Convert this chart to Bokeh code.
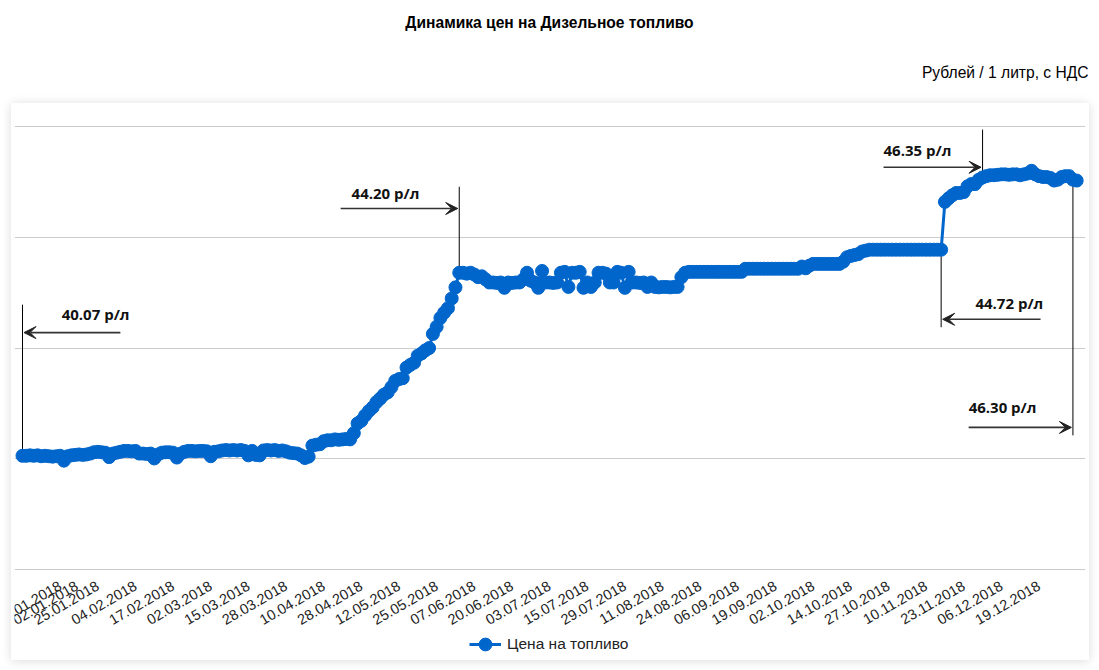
import math
from bokeh.plotting import figure
from bokeh.models import (Range1d, FixedTicker, Legend, LegendItem, Arrow, VeeHead,
                          ColumnDataSource)
from bokeh.layouts import column
from bokeh.core.properties import value
from bokeh.embed import file_html
from bokeh.resources import INLINE

# ---------------- data ----------------
title_text = "Динамика цен на Дизельное топливо"
unit_text = "Рублей / 1 литр, с НДС"
series_name = "Цена на топливо"

prices = [
    40.07, 40.07, 40.08, 40.07, 40.08, 40.06, 40.07, 40.06, 40.05, 40.06,
    40.07, 39.96, 40.06, 40.08, 40.09, 40.10, 40.09, 40.10, 40.12, 40.15,
    40.16, 40.15, 40.14, 40.04, 40.12, 40.14, 40.16, 40.18, 40.18, 40.17,
    40.18, 40.12, 40.12, 40.11, 40.12, 40.01, 40.10, 40.14, 40.15, 40.15,
    40.14, 40.03, 40.12, 40.16, 40.18, 40.18, 40.17, 40.18, 40.18, 40.17,
    40.06, 40.16, 40.17, 40.19, 40.20, 40.19, 40.20, 40.19, 40.20, 40.18,
    40.08, 40.18, 40.09, 40.08, 40.19, 40.20, 40.19, 40.20, 40.18, 40.19,
    40.17, 40.14, 40.13, 40.12, 40.08, 40.02, 40.05, 40.30, 40.32, 40.33,
    40.40, 40.42, 40.42, 40.44, 40.43, 40.44, 40.45, 40.44, 40.58, 40.80,
    40.86, 40.98, 41.08, 41.16, 41.28, 41.36, 41.45, 41.50, 41.62, 41.76,
    41.80, 41.82, 42.06, 42.12, 42.17, 42.33, 42.38, 42.45, 42.50, 42.82,
    42.98, 43.18, 43.30, 43.40, 43.62, 43.87, 44.20, 44.20, 44.18, 44.20,
    44.16, 44.10, 44.12, 44.05, 43.98, 43.98, 43.97, 43.98, 43.86, 43.98,
    43.97, 43.98, 43.98, 44.05, 44.20, 44.02, 43.98, 43.86, 44.24, 43.98,
    43.98, 43.97, 43.98, 44.20, 44.22, 43.88, 44.20, 44.20, 44.22, 43.86,
    43.98, 43.88, 43.98, 44.20, 44.20, 44.18, 43.98, 43.98, 44.22, 44.20,
    43.86, 44.22, 43.98, 43.98, 43.97, 43.98, 43.88, 43.98, 43.88, 43.87,
    43.88, 43.88, 43.87, 43.88, 43.88, 44.10, 44.20, 44.22, 44.22, 44.22,
    44.22, 44.22, 44.22, 44.22, 44.22, 44.22, 44.22, 44.22, 44.22, 44.22,
    44.22, 44.22, 44.29, 44.29, 44.29, 44.29, 44.29, 44.29, 44.29, 44.29,
    44.29, 44.29, 44.29, 44.29, 44.29, 44.29, 44.29, 44.34, 44.30, 44.36,
    44.40, 44.40, 44.40, 44.40, 44.40, 44.40, 44.40, 44.40, 44.45, 44.55,
    44.58, 44.60, 44.62, 44.68, 44.70, 44.72, 44.72, 44.72, 44.72, 44.72,
    44.72, 44.72, 44.72, 44.72, 44.72, 44.72, 44.72, 44.72, 44.72, 44.72,
    44.72, 44.72, 44.72, 44.72, 44.72, 45.80, 45.88, 45.95, 46.00, 46.00,
    46.02, 46.15, 46.20, 46.20, 46.30, 46.35, 46.38, 46.40, 46.40, 46.41,
    46.42, 46.42, 46.41, 46.42, 46.42, 46.40, 46.42, 46.44, 46.50, 46.42,
    46.38, 46.36, 46.36, 46.34, 46.28, 46.30, 46.36, 46.38, 46.38, 46.30,
    46.28,
]

tick_labels = [
    "02.01.2018", "12.01.2018", "25.01.2018", "04.02.2018", "17.02.2018",
    "02.03.2018", "15.03.2018", "28.03.2018", "10.04.2018", "28.04.2018",
    "12.05.2018", "25.05.2018", "07.06.2018", "20.06.2018", "03.07.2018",
    "15.07.2018", "29.07.2018", "11.08.2018", "24.08.2018", "06.09.2018",
    "19.09.2018", "02.10.2018", "14.10.2018", "27.10.2018", "10.11.2018",
    "23.11.2018", "06.12.2018", "19.12.2018",
]
label_every = 10

grid_levels = [37.5, 40.0, 42.5, 45.0, 47.5]

# annotated points (index into prices) and their values
ann_index = [0, 116, 255, 244, 279]
ann_value = [40.07, 44.20, 46.35, 44.72, 46.30]

# annotation layout (data coordinates)
ann_line_end = [43.48, 46.14, 47.43, 42.97, 40.53]
ann_arrow_y = [42.85, 45.65, 46.58, 43.15, 40.71]
ann_arrow_tail = [26.0, 84.5, 228.7, 270.4, 251.3]
ann_text_x = [10.4, 87.4, 228.7, 253.1, 251.3]
ann_text_y = [43.26, 45.99, 46.98, 43.51, 41.16]

BLUE = "#0066cc"

# ---------------- header (title + units) ----------------
head = figure(width=1099, height=103, x_range=Range1d(0, 1099), y_range=Range1d(103, 0),
              output_backend="svg", toolbar_location=None,
              x_axis_location=None, y_axis_location=None, min_border=0,
              outline_line_color=None, background_fill_color=None,
              border_fill_color=None, margin=(0, 0, 0, 0))
head.grid.visible = False
head.text(x=[549.5], y=[22], text=[title_text], text_align="center",
          text_baseline="middle", text_font=value("Liberation Sans"),
          text_font_style="bold", text_font_size="15.6px", text_color="#000000")
head.text(x=[1092], y=[72], text=[unit_text], text_align="right",
          text_baseline="middle", text_font=value("Liberation Sans"),
          text_font_size="15.6px", text_color="#000000")

# ---------------- card with the chart ----------------
p = figure(width=1078, height=557,
           x_range=Range1d(-2.125, 282.34), y_range=Range1d(35.451, 47.545),
           output_backend="svg", toolbar_location=None, y_axis_location=None,
           min_border_left=3, min_border_right=4, min_border_top=21,
           min_border_bottom=0, outline_line_color=None,
           background_fill_color="white", border_fill_color="white",
           margin=(0, 10, 10, 11))
p.styles = {"box-shadow": "0 1px 10px rgba(0,0,0,0.14)"}

p.xgrid.visible = False
p.ygrid.ticker = FixedTicker(ticks=grid_levels)
p.ygrid.grid_line_color = "#cccccc"
p.ygrid.grid_line_width = 1

tick_pos = [i * label_every for i in range(len(tick_labels))]
p.xaxis.fixed_location = grid_levels[0]
p.xaxis.ticker = FixedTicker(ticks=tick_pos)
p.xaxis.major_label_overrides = {t: lab for t, lab in zip(tick_pos, tick_labels)}
p.xaxis.major_label_orientation = math.pi / 6
p.xaxis.axis_line_color = None
p.xaxis.major_tick_line_color = None
p.xaxis.minor_tick_line_color = None
p.xaxis.major_label_text_font = "Liberation Sans"
p.xaxis.major_label_text_font_size = "14.5px"
p.xaxis.major_label_text_color = "#222222"
p.xaxis.major_label_standoff = 9

xs = list(range(len(prices)))
src = ColumnDataSource(data=dict(x=xs, y=prices))

# annotation vertical lines (under the markers)
p.segment(x0=ann_index, y0=ann_value, x1=ann_index, y1=ann_line_end,
          line_color="black", line_width=1)

line_r = p.line("x", "y", source=src, line_color=BLUE, line_width=3)
dots_r = p.scatter("x", "y", source=src, size=13, fill_color=BLUE,
                   line_color=BLUE, marker="circle")

# arrows
for idx, ay, tail in zip(ann_index, ann_arrow_y, ann_arrow_tail):
    head_x = idx + (0.4 if tail > idx else -0.4)
    p.add_layout(Arrow(end=VeeHead(size=12, fill_color="#222222", line_color="#222222",
                                   line_width=1),
                       x_start=tail, y_start=ay, x_end=head_x, y_end=ay,
                       line_color="#333333", line_width=1.6))

ann_src = ColumnDataSource(data=dict(
    x=ann_text_x, y=ann_text_y,
    t=["%.2f р/л" % v for v in ann_value]))
p.text("x", "y", text="t", source=ann_src, text_align="left", text_baseline="middle",
       text_font=value("Open Sans"), text_font_style="bold", text_font_size="15px",
       text_color="#111111")

legend = Legend(items=[LegendItem(label=series_name, renderers=[line_r, dots_r])],
                location=(455, 0), orientation="horizontal",
                border_line_color=None, background_fill_alpha=0,
                label_text_font="Liberation Sans", label_text_font_size="15.5px",
                label_text_color="#222222",
                glyph_width=32, glyph_height=32, label_standoff=6, padding=0,
                margin=0)
p.add_layout(legend, "center")

layout = column(head, p, spacing=0, margin=(0, 0, 0, 0))

open("out.html", "w").write(file_html(layout, INLINE))
